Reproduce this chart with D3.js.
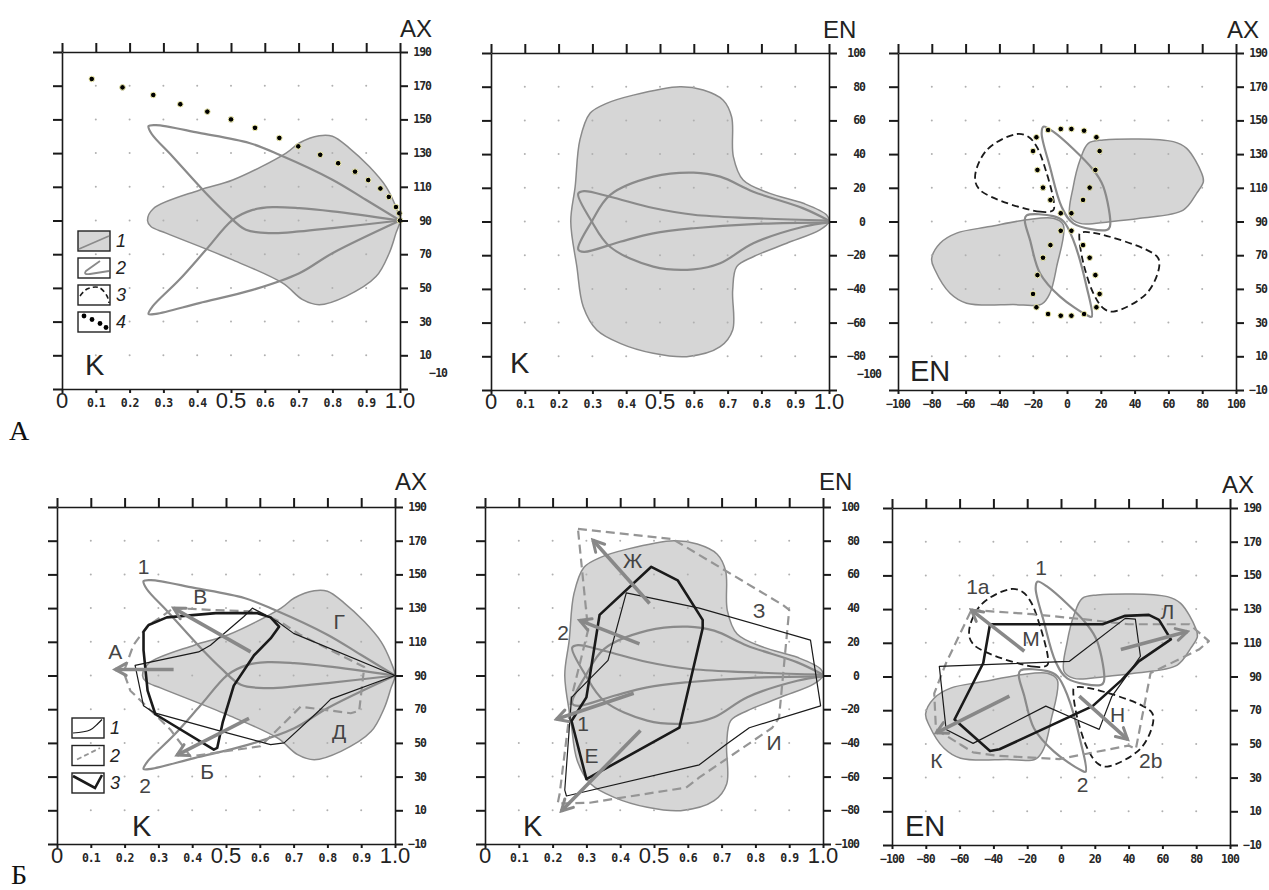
<!DOCTYPE html>
<html>
<head>
<meta charset="utf-8">
<script src="https://cdn.jsdelivr.net/npm/d3@7.9.0/dist/d3.min.js"></script>
<style>
  body { margin: 0; background: #fff; }
  svg { display: block; font-family: 'Liberation Sans', Arial, sans-serif; }
  .small { font-family: 'DejaVu Sans Mono', monospace; font-weight: bold; font-size: 11.5px; fill: #262626; letter-spacing: -1px; }
  .big { font-size: 22px; fill: #222; }
  .title { font-size: 24px; fill: #222; }
  .name { font-size: 29px; fill: #222; }
  .mark-label { font-size: 21px; fill: #444; }
  .panel-letter { font-family: 'Liberation Serif', 'Times New Roman', serif; font-size: 28px; fill: #111; }
</style>
</head>
<body>
<svg id="fig" width="1269" height="890"></svg>
<script>
// ticks
const kTicks = d3.range(0, 11).map((i) => i / 10);
const enTicks = d3.range(-100, 101, 20);
const axTicks = d3.range(-10, 191, 20);

// theoretical regions, K-AX plane [K, AX]
const bodyKA = [[0.253, 90], [0.27, 97], [0.406, 108], [0.505, 114], [0.663, 130], [0.702, 136], [0.761, 140.3],
  [0.80, 140], [0.85, 133], [0.909, 122], [0.959, 110], [0.988, 98], [1.0, 90], [0.988, 82.5], [0.968, 70.6],
  [0.929, 56.7], [0.84, 45], [0.761, 40], [0.712, 43], [0.653, 52.8], [0.505, 66.6], [0.308, 82.5], [0.263, 86.4]];
const upperLoopKA = [[1.0, 90], [0.899, 102.3], [0.80, 114.2], [0.643, 129], [0.554, 136], [0.406, 142], [0.278, 146.6],
  [0.256, 146], [0.265, 141.5], [0.327, 128], [0.426, 106.2], [0.485, 94.4], [0.544, 84.5], [0.623, 82.5],
  [0.702, 83.5], [0.80, 85.5], [1.0, 90]];
const lowerLoopKA = [[1.0, 90], [0.80, 95.4], [0.702, 97.3], [0.623, 97.9], [0.564, 96.3], [0.505, 90.4], [0.426, 72.6],
  [0.347, 54.8], [0.268, 39], [0.256, 34.5], [0.278, 34.6], [0.406, 41], [0.564, 48.8], [0.702, 58.7],
  [0.80, 70.6], [1.0, 90]];
const dotsKA = [[0.088, 174], [0.179, 169], [0.27, 164.5], [0.35, 159], [0.43, 154.6], [0.50, 150], [0.571, 145],
  [0.643, 139], [0.699, 134], [0.764, 129], [0.817, 124], [0.867, 119], [0.906, 114], [0.942, 109], [0.967, 104],
  [0.988, 98], [0.998, 94.3], [1.0, 90]];

// theoretical regions, K-EN plane [K, EN]
const bodyKE = [[0.236, 0], [0.249, 20.7], [0.263, 48.4], [0.293, 64.2], [0.342, 70.1], [0.421, 75], [0.559, 80],
  [0.628, 78], [0.687, 72], [0.712, 62], [0.717, 38.5], [0.746, 24.6], [0.825, 16.7], [0.924, 10.8], [0.993, 3.9],
  [1.0, 0], [0.973, -5], [0.875, -12.9], [0.776, -20.9], [0.727, -26.8], [0.715, -40.7], [0.715, -64.4],
  [0.678, -74.3], [0.579, -80.2], [0.48, -78.2], [0.382, -72.3], [0.313, -64.4], [0.273, -50.6], [0.254, -26.8]];
const upperLoopKE = [[1.0, 0.5], [0.776, 2], [0.6, 4], [0.48, 8], [0.352, 14.7], [0.275, 18], [0.258, 16.5],
  [0.298, 0], [0.352, -15], [0.48, -26.8], [0.6, -28.4], [0.678, -24.8], [0.776, -12.9], [0.924, -3.1], [1.0, -0.5]];
const lowerLoopKE = [[1.0, -0.5], [0.776, -1.5], [0.6, -4], [0.48, -7], [0.382, -12], [0.275, -18], [0.258, -16.5],
  [0.298, 0], [0.352, 15.7], [0.48, 26.6], [0.6, 29], [0.678, 26.6], [0.776, 17.7], [0.924, 7.8], [1.0, 0.5]];

// theoretical regions, EN-AX plane [EN, AX]
const upperBlobEA = [[1.8, 93], [3.7, 110.7], [7.7, 126.5], [12.6, 136.4], [21.5, 138.4], [62.9, 137.4], [70.8, 133.4],
  [79.7, 118.6], [80.7, 113.6], [76.7, 106.7], [68.8, 96.8], [43.2, 91.9], [25.4, 89.9], [7.7, 88.9]];
const lowerBlobEA = [[-2.2, 88], [-6.1, 63.2], [-10.1, 47.4], [-15, 41], [-31.8, 40.7], [-59.4, 41.5], [-69.2, 47.4],
  [-78.1, 61.2], [-80.1, 67.8], [-75.1, 77.1], [-65.3, 83.1], [-45.6, 87], [-23.9, 91], [-8.1, 91.9]];
const upperLoopEA = [[-14, 146.3], [-8.1, 143.3], [15.6, 120.6], [21.5, 110.7], [25.4, 87], [23.5, 85], [3.7, 88.9],
  [-3.2, 98.8], [-10.1, 122.5], [-15, 142.3]];
const lowerLoopEA = [[14.6, 33.5], [11.6, 51.3], [3.7, 79.1], [-2, 90], [-8.1, 93.2], [-23.9, 93.6], [-25, 91],
  [-21.9, 79.1], [-16, 59.3], [-4.1, 45.4], [11.6, 34.5]];
const dashUpperEA = [[-8.1, 96.8], [-16, 95.8], [-51.5, 108.7], [-54.4, 116.6], [-47.5, 132.4], [-29.8, 141.9],
  [-22.9, 140.3], [-17.9, 134.4], [-12, 118.6], [-7.7, 100.8]];
const dashLowerEA = [[7.7, 83.1], [15.6, 83.3], [53.1, 69.4], [54.6, 63.5], [47.2, 47.4], [27.4, 36.5], [21.5, 38.5],
  [15.6, 47.4], [9.7, 65.2], [7.3, 80.2]];
const dotsEA = [[-18.1, 140], [-11.2, 144.3], [-3.7, 144.9], [2.6, 144.9], [10.1, 143.9], [17.4, 140], [19.3, 131.8],
  [16.8, 120.6], [13.4, 110.1], [9.5, 102.8], [2.6, 94.9], [-3.7, 94.9], [-9.8, 102.8], [-14.2, 110.1],
  [-17.5, 120.6], [-20.1, 131.8],
  [-3.7, 84.5], [2.6, 84.5], [9.5, 76], [13.4, 68.5], [16.8, 58.2], [19.3, 47], [17.4, 39.1], [10.1, 35.1],
  [2.6, 34.1], [-3.7, 34.1], [-11.2, 35.1], [-18.1, 39.1], [-20.1, 47], [-17.5, 58.2], [-14.2, 68.5], [-9.8, 76]];

// experimental polygons, panel Б K-AX
const thinKA = [[0.231, 96], [0.419, 104], [0.454, 108], [0.553, 125], [0.578, 130], [0.652, 122], [0.70, 115],
  [1.0, 90], [0.81, 76], [0.78, 70], [0.672, 50], [0.632, 49], [0.484, 57], [0.286, 68], [0.256, 72]];
const thickKA = [[0.256, 116], [0.271, 120], [0.325, 124.5], [0.47, 127], [0.593, 127], [0.632, 124.5], [0.657, 119],
  [0.632, 112], [0.583, 102], [0.523, 84], [0.49, 62], [0.474, 47], [0.464, 46], [0.291, 67], [0.268, 81], [0.256, 105]];
const dashKA = [[0.345, 130], [0.45, 129], [0.593, 128], [0.66, 122], [0.721, 114], [0.909, 95], [0.894, 69],
  [0.869, 67.6], [0.721, 71.5], [0.602, 48], [0.395, 42], [0.335, 58], [0.217, 81], [0.197, 92], [0.226, 108],
  [0.266, 119]];
const arrowsKA = [
  { from: [0.345, 93.6], to: [0.172, 93.6] },
  { from: [0.573, 104], to: [0.345, 130] },
  { from: [0.568, 64.6], to: [0.355, 42.8] },
];
const labelsKA = [
  { text: 'А', at: [0.172, 104] }, { text: 'В', at: [0.424, 137] }, { text: 'Б', at: [0.444, 33] },
  { text: 'Г', at: [0.835, 122] }, { text: 'Д', at: [0.835, 57] }, { text: '1', at: [0.256, 155] },
  { text: '2', at: [0.261, 25] },
];

// experimental polygons, panel Б K-EN
const thinKE = [[0.418, 49], [0.634, 40], [0.963, 21], [0.993, -18], [0.782, -31], [0.713, -41], [0.634, -53],
  [0.241, -71.5], [0.236, -68], [0.256, -13], [0.364, 9]];
const thickKE = [[0.339, 36], [0.492, 64.5], [0.57, 56.5], [0.644, 33], [0.644, 28], [0.575, -31], [0.30, -61.5],
  [0.256, -27], [0.30, -13]];
const dashKE = [[0.275, 87], [0.555, 81], [0.88, 42], [0.90, 39], [0.87, -25], [0.85, -31], [0.634, -60.5],
  [0.595, -66.5], [0.31, -75.5], [0.215, -76], [0.221, -70], [0.256, -13], [0.305, 27]];
const arrowsKE = [
  { from: [0.487, 42.7], to: [0.319, 80.4] },
  { from: [0.457, 18.8], to: [0.28, 32.7] },
  { from: [0.44, -10.5], to: [0.211, -26] },
  { from: [0.46, -32.7], to: [0.226, -80.4] },
];
const labelsKE = [
  { text: 'Ж', at: [0.437, 68.5] }, { text: '2', at: [0.231, 25.8] }, { text: '1', at: [0.29, -28.7] },
  { text: 'Е', at: [0.315, -47.6] }, { text: 'З', at: [0.811, 38.7] }, { text: 'И', at: [0.855, -39.7] },
];

// experimental polygons, panel Б EN-AX
const thinEA = [[-72, 96], [5, 99], [38, 124.5], [44, 124], [47, 102], [40, 92], [30, 78], [22.6, 58.6], [9, 64.5],
  [-9, 72.4], [-52, 50.3], [-68, 58.6]];
const thickEA = [[-42, 121], [24.6, 121], [38, 126], [52, 126.6], [58, 123.6], [65, 112], [46, 99], [36, 88],
  [18.7, 72.4], [-36.4, 46.8], [-42, 45.8], [-63, 64.5], [-46, 98]];
const dashEA = [[-53, 129.5], [-17, 127], [13, 124], [40, 121], [76, 121], [87.5, 111], [81.6, 106], [53, 92],
  [44.3, 47], [40, 49], [-1, 41], [-38, 43], [-52, 45], [-74, 58.6], [-75, 80], [-68, 98]];
const arrowsEA = [
  { from: [-21.7, 105], to: [-53.1, 129.5] },
  { from: [35.4, 106], to: [74.8, 116.7] },
  { from: [-30.5, 78.3], to: [-73.8, 56.6] },
  { from: [10.8, 78.3], to: [39.4, 52.7] },
];
const labelsEA = [
  { text: '1', at: [-11.8, 155] }, { text: '1a', at: [-49.2, 143.3] }, { text: 'М', at: [-17.7, 112.8] },
  { text: 'Л', at: [63, 128.5] }, { text: 'Н', at: [33.5, 67.4] }, { text: '2b', at: [53.1, 40] },
  { text: 'К', at: [-73.8, 40] }, { text: '2', at: [12.8, 26] },
];

const PW = 338;
const PH = 337;
const GRAY_FILL = '#d6d6d6';
const GRAY_LINE = '#8a8a8a';
const INK = '#1a1a1a';

const svg = d3.select('#fig');
svg.append('rect').attr('width', 1269).attr('height', 890).attr('fill', '#fff');

svg.append('defs').append('marker')
  .attr('id', 'arrow')
  .attr('viewBox', '0 0 16 16')
  .attr('refX', 13).attr('refY', 8)
  .attr('markerWidth', 16).attr('markerHeight', 16)
  .attr('markerUnits', 'userSpaceOnUse')
  .attr('orient', 'auto')
  .append('path')
  .attr('d', 'M2,2 L13,8 L2,14')
  .attr('fill', 'none')
  .attr('stroke', '#888')
  .attr('stroke-width', 3)
  .attr('stroke-linecap', 'round');

function makePanel(cfg) {
  const g = svg.append('g');
  const x = d3.scaleLinear().domain(cfg.xKind === 'K' ? [0, 1] : [-100, 100]).range([cfg.x0, cfg.x0 + PW]);
  const y = d3.scaleLinear().domain(cfg.yKind === 'AX' ? [-10, 190] : [-100, 100]).range([cfg.y0 + PH, cfg.y0]);
  const layers = {
    fill: g.append('g'),
    grid: g.append('g'),
    theory: g.append('g'),
    exp: g.append('g'),
    arrows: g.append('g'),
    text: g.append('g'),
    axes: g.append('g'),
  };
  return { cfg, x, y, g, layers };
}

function lineGen(p, curve) {
  return d3.line().x((d) => p.x(d[0])).y((d) => p.y(d[1])).curve(curve);
}

function drawFill(p, data) {
  p.layers.fill.append('path')
    .attr('d', lineGen(p, d3.curveCatmullRomClosed.alpha(0.5))(data))
    .attr('fill', GRAY_FILL).attr('stroke', GRAY_LINE).attr('stroke-width', 1.5);
}

function drawLoop(p, data, closed) {
  const curve = closed ? d3.curveCatmullRomClosed.alpha(0.5) : d3.curveCatmullRom.alpha(0.5);
  p.layers.theory.append('path')
    .attr('d', lineGen(p, curve)(data))
    .attr('fill', 'none').attr('stroke', GRAY_LINE).attr('stroke-width', 2.2);
}

function drawDashLoop(p, data) {
  p.layers.theory.append('path')
    .attr('d', lineGen(p, d3.curveCatmullRomClosed.alpha(0.5))(data))
    .attr('fill', 'none').attr('stroke', INK).attr('stroke-width', 1.8).attr('stroke-dasharray', '7,4');
}

function drawDots(p, data) {
  p.layers.theory.selectAll(null).data(data).join('circle')
    .attr('cx', (d) => p.x(d[0])).attr('cy', (d) => p.y(d[1])).attr('r', 2.8)
    .attr('fill', '#000').attr('stroke', '#f3f0b0').attr('stroke-width', 1);
}

function drawPolygon(p, data, style) {
  p.layers.exp.append('path')
    .attr('d', lineGen(p, d3.curveLinearClosed)(data))
    .attr('fill', 'none')
    .attr('stroke', style.color)
    .attr('stroke-width', style.width)
    .attr('stroke-dasharray', style.dash || null)
    .attr('stroke-linejoin', 'round');
}

function drawArrows(p, data) {
  p.layers.arrows.selectAll(null).data(data).join('line')
    .attr('x1', (d) => p.x(d.from[0])).attr('y1', (d) => p.y(d.from[1]))
    .attr('x2', (d) => p.x(d.to[0])).attr('y2', (d) => p.y(d.to[1]))
    .attr('stroke', '#888').attr('stroke-width', 3.6)
    .attr('marker-end', 'url(#arrow)');
}

function drawLabels(p, data) {
  p.layers.text.selectAll(null).data(data).join('text')
    .attr('class', 'mark-label')
    .attr('x', (d) => p.x(d.at[0])).attr('y', (d) => p.y(d.at[1]))
    .attr('text-anchor', 'middle').attr('dy', '0.36em')
    .text((d) => d.text);
}

function drawFrame(p) {
  const { cfg, x, y } = p;
  const xt = cfg.xKind === 'K' ? kTicks : enTicks;
  const yt = cfg.yKind === 'AX' ? axTicks : enTicks;
  const ax = p.layers.axes;

  // grid dots at the inner tick crossings
  const inner = [];
  xt.slice(1, -1).forEach((a) => yt.slice(1, -1).forEach((b) => inner.push([a, b])));
  p.layers.grid.selectAll(null).data(inner).join('circle')
    .attr('cx', (d) => x(d[0])).attr('cy', (d) => y(d[1])).attr('r', 1)
    .attr('fill', '#b0b0b0');

  const style = (sel) => {
    sel.select('.domain').attr('stroke', INK).attr('stroke-width', 1.6);
    sel.selectAll('.tick line').attr('stroke', INK).attr('stroke-width', 2);
  };
  ax.append('g').attr('transform', `translate(0,${cfg.y0})`)
    .call(d3.axisTop(x).tickValues(xt).tickSize(9).tickSizeOuter(0).tickFormat(''))
    .call(style);
  ax.append('g').attr('transform', `translate(0,${cfg.y0 + PH})`)
    .call(d3.axisBottom(x).tickValues(xt).tickSize(4).tickSizeOuter(0).tickFormat(''))
    .call(style);
  ax.append('g').attr('transform', `translate(${cfg.x0},0)`)
    .call(d3.axisLeft(y).tickValues(yt).tickSize(9).tickSizeOuter(0).tickFormat(''))
    .call(style);
  ax.append('g').attr('transform', `translate(${cfg.x0 + PW},0)`)
    .call(d3.axisRight(y).tickValues(yt).tickSize(8).tickSizeOuter(0).tickFormat(''))
    .call(style);

  // bottom tick labels
  const bigK = (d) => cfg.xKind === 'K' && (d === 0 || d === 0.5 || d === 1);
  ax.selectAll(null).data(xt).join('text')
    .attr('class', (d) => (bigK(d) ? 'big' : 'small'))
    .attr('x', (d) => x(d))
    .attr('y', (d) => cfg.y0 + PH + (bigK(d) ? 19 : 18))
    .attr('text-anchor', 'middle')
    .text((d) => {
      if (cfg.xKind !== 'K') return d3.format('d')(d);
      return d === 0 ? '0' : d.toFixed(1);
    });

  // right tick labels
  const last = yt[0];
  const labelRight = cfg.yKind === 'EN' ? 36 : 31;
  ax.selectAll(null).data(yt).join('text')
    .attr('class', 'small')
    .attr('x', (d) => cfg.x0 + PW + labelRight + (cfg.shiftLast && d === last ? 16 : 0))
    .attr('y', (d) => (cfg.shiftLast && d === last ? cfg.y0 + PH - 16 : y(d)))
    .attr('dy', '0.35em')
    .attr('text-anchor', 'end')
    .text((d) => d3.format('d')(d));

  ax.append('text').attr('class', 'title')
    .attr('x', cfg.x0 + PW + cfg.titleDx).attr('y', cfg.y0 + cfg.titleDy)
    .text(cfg.title);
  ax.append('text').attr('class', 'name')
    .attr('x', cfg.x0 + cfg.nameDx).attr('y', cfg.y0 + PH + cfg.nameDy)
    .text(cfg.name);
}

const panelCfg = [
  { x0: 62, y0: 52, xKind: 'K', yKind: 'AX', title: 'AX', titleDx: 0, titleDy: -15, name: 'K', nameDx: 23, nameDy: -14, shiftLast: true },
  { x0: 491, y0: 53, xKind: 'K', yKind: 'EN', title: 'EN', titleDx: -6, titleDy: -15, name: 'K', nameDx: 19, nameDy: -17, shiftLast: true },
  { x0: 898, y0: 53, xKind: 'EN', yKind: 'AX', title: 'AX', titleDx: -9, titleDy: -15, name: 'EN', nameDx: 12, nameDy: -9 },
  { x0: 57, y0: 507, xKind: 'K', yKind: 'AX', title: 'AX', titleDx: 0, titleDy: -17, name: 'K', nameDx: 75, nameDy: -8 },
  { x0: 485, y0: 507, xKind: 'K', yKind: 'EN', title: 'EN', titleDx: -4, titleDy: -17, name: 'K', nameDx: 38, nameDy: -8 },
  { x0: 892, y0: 508, xKind: 'EN', yKind: 'AX', title: 'AX', titleDx: -8, titleDy: -15, name: 'EN', nameDx: 13, nameDy: -9 },
];
const panels = panelCfg.map(makePanel);
panels.forEach(drawFrame);

const thinStyle = { color: INK, width: 1.2 };
const thickStyle = { color: INK, width: 2.6 };
const dashStyle = { color: '#959595', width: 2.2, dash: '9,5' };

// row А: theoretical regions
const [pA1, pA2, pA3, pB1, pB2, pB3] = panels;
[pA1, pB1].forEach((p) => {
  drawFill(p, bodyKA);
  drawLoop(p, upperLoopKA, false);
  drawLoop(p, lowerLoopKA, false);
});
drawDots(pA1, dotsKA);

[pA2, pB2].forEach((p) => {
  drawFill(p, bodyKE);
  drawLoop(p, upperLoopKE, false);
  drawLoop(p, lowerLoopKE, false);
});

[pA3, pB3].forEach((p) => {
  drawFill(p, upperBlobEA);
  drawFill(p, lowerBlobEA);
  drawLoop(p, upperLoopEA, true);
  drawLoop(p, lowerLoopEA, true);
  drawDashLoop(p, dashUpperEA);
  drawDashLoop(p, dashLowerEA);
});
drawDots(pA3, dotsEA);

// row Б: experimental areas
drawPolygon(pB1, dashKA, dashStyle);
drawPolygon(pB1, thinKA, thinStyle);
drawPolygon(pB1, thickKA, thickStyle);
drawArrows(pB1, arrowsKA);
drawLabels(pB1, labelsKA);

drawPolygon(pB2, dashKE, dashStyle);
drawPolygon(pB2, thinKE, thinStyle);
drawPolygon(pB2, thickKE, thickStyle);
drawArrows(pB2, arrowsKE);
drawLabels(pB2, labelsKE);

drawPolygon(pB3, dashEA, dashStyle);
drawPolygon(pB3, thinEA, thinStyle);
drawPolygon(pB3, thickEA, thickStyle);
drawArrows(pB3, arrowsEA);
drawLabels(pB3, labelsEA);

// legends
function legend(left, top, pitch, items) {
  const lg = svg.append('g').attr('transform', `translate(${left},${top})`);
  items.forEach((item, i) => {
    const row = lg.append('g').attr('transform', `translate(0,${i * pitch})`);
    row.append('rect').attr('width', 32).attr('height', 20)
      .attr('fill', item.fill || '#fff').attr('stroke', '#222').attr('stroke-width', 1.4);
    item.draw(row);
    row.append('text').attr('x', 38).attr('y', 10).attr('dy', '0.36em')
      .attr('font-size', 18).attr('font-style', 'italic').attr('fill', '#222')
      .text(item.label);
  });
}
const swLine = d3.line().curve(d3.curveCatmullRom);

legend(78, 231, 27, [
  { label: '1', fill: GRAY_FILL, draw: (r) => r.append('path').attr('d', swLine([[1, 18], [31, 5]])).attr('stroke', GRAY_LINE).attr('stroke-width', 1.6).attr('fill', 'none') },
  { label: '2', draw: (r) => r.append('path').attr('d', 'M31,13 L12,16 Q5,17 8,13 L22,3').attr('stroke', GRAY_LINE).attr('stroke-width', 1.8).attr('fill', 'none') },
  { label: '3', draw: (r) => r.append('path').attr('d', swLine([[2, 11], [9, 4], [21, 2.5], [29, 11], [31, 18]])).attr('stroke', INK).attr('stroke-width', 1.6).attr('stroke-dasharray', '5,3').attr('fill', 'none') },
  { label: '4', draw: (r) => r.selectAll(null).data([[6, 4], [14, 7.5], [22, 11.5], [28, 15.5]]).join('circle').attr('cx', (d) => d[0]).attr('cy', (d) => d[1]).attr('r', 2.4).attr('fill', '#000') },
]);

legend(72, 718, 27.5, [
  { label: '1', draw: (r) => r.append('path').attr('d', swLine([[1, 15], [18, 12], [26, 5.5], [30, 1.5]])).attr('stroke', INK).attr('stroke-width', 1.2).attr('fill', 'none') },
  { label: '2', draw: (r) => r.append('path').attr('d', swLine([[5, 14], [28, 2.5]])).attr('stroke', '#959595').attr('stroke-width', 1.8).attr('stroke-dasharray', '5,3').attr('fill', 'none') },
  { label: '3', draw: (r) => r.append('path').attr('d', 'M1,3 L23,15 L30,2').attr('stroke', INK).attr('stroke-width', 2.6).attr('fill', 'none') },
]);

// panel letters
svg.append('text').attr('class', 'panel-letter').attr('x', 9).attr('y', 440).text('А');
svg.append('text').attr('class', 'panel-letter').attr('x', 11).attr('y', 884).text('Б');
</script>
</body>
</html>
